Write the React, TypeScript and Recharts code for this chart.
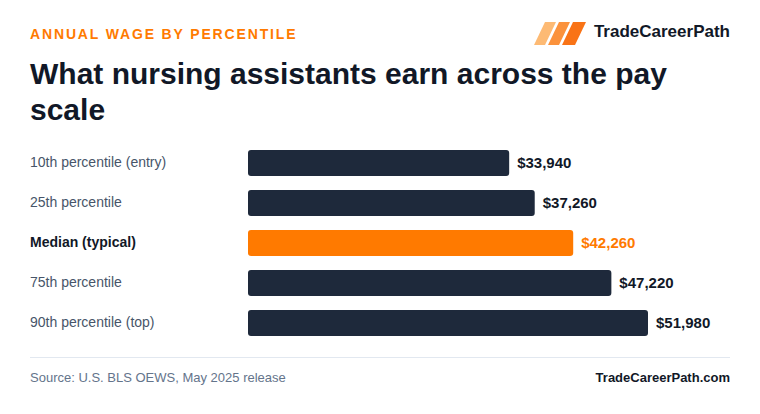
import React from "react";
import { BarChart, Bar, XAxis, YAxis, Cell, LabelList } from "recharts";

const percentiles = [
  "10th percentile (entry)",
  "25th percentile",
  "Median (typical)",
  "75th percentile",
  "90th percentile (top)",
];
const wages = [33940, 37260, 42260, 47220, 51980];
const highlighted = "Median (typical)";

const data = percentiles.map((label, i) => ({ label, wage: wages[i] }));

const FONT = '"Liberation Sans", Arial, Helvetica, sans-serif';
const ORANGE = "#ff7a00";
const NAVY = "#1e293b";
const INK = "#111827";

const fmt = (v: number) => "$" + v.toLocaleString("en-US");

function PercentileTick({ y, payload }: any) {
  const isMedian = payload.value === highlighted;
  return (
    <text
      x={30}
      y={y}
      dy={4}
      textAnchor="start"
      fontFamily={FONT}
      fontSize={14}
      fontWeight={isMedian ? 700 : 400}
      fill={isMedian ? INK : "#475569"}
    >
      {payload.value}
    </text>
  );
}

function WageLabel({ x, y, width, height, value, index }: any) {
  const isMedian = percentiles[index] === highlighted;
  return (
    <text
      x={x + width + 8}
      y={y + height / 2}
      dy={5}
      fontFamily={FONT}
      fontSize={15}
      fontWeight={700}
      fill={isMedian ? ORANGE : INK}
    >
      {fmt(value)}
    </text>
  );
}

function Logo() {
  return (
    <svg width={52} height={23} style={{ position: "absolute", left: 534, top: 22 }}>
      <polygon points="0,23 11,0 22,0 11,23" fill="#fdba74" />
      <polygon points="14,23 25,0 36,0 25,23" fill="#fb923c" />
      <polygon points="28,23 39,0 52,0 41,23" fill="#f97316" />
    </svg>
  );
}

export default function App() {
  return (
    <div
      style={{
        position: "relative",
        width: 760,
        height: 414,
        margin: -8,
        background: "#ffffff",
        fontFamily: FONT,
        overflow: "hidden",
      }}
    >
      <div
        style={{
          position: "absolute",
          left: 30,
          top: 26,
          fontSize: 14,
          fontWeight: 700,
          letterSpacing: 1.85,
          color: ORANGE,
        }}
      >
        ANNUAL WAGE BY PERCENTILE
      </div>
      <Logo />
      <div
        style={{
          position: "absolute",
          right: 30,
          top: 22,
          fontSize: 17,
          fontWeight: 700,
          color: INK,
        }}
      >
        TradeCareerPath
      </div>
      <div
        style={{
          position: "absolute",
          left: 30,
          top: 56,
          width: 680,
          fontSize: 30,
          lineHeight: "36px",
          fontWeight: 700,
          color: INK,
        }}
      >
        What nursing assistants earn across the pay scale
      </div>

      <div style={{ position: "absolute", left: 0, top: 143 }}>
        <BarChart
          width={760}
          height={200}
          data={data}
          layout="vertical"
          margin={{ top: 0, right: 32, bottom: 0, left: 30 }}
        >
          <XAxis type="number" hide domain={[0, 62376]} />
          <YAxis
            type="category"
            dataKey="label"
            width={218}
            axisLine={false}
            tickLine={false}
            tick={<PercentileTick />}
          />
          <Bar dataKey="wage" barSize={26} radius={3} isAnimationActive={false}>
            {data.map((d) => (
              <Cell key={d.label} fill={d.label === highlighted ? ORANGE : NAVY} />
            ))}
            <LabelList dataKey="wage" content={<WageLabel />} />
          </Bar>
        </BarChart>
      </div>

      <div
        style={{
          position: "absolute",
          left: 30,
          top: 357,
          width: 700,
          height: 1,
          background: "#e2e8f0",
        }}
      />
      <div
        style={{
          position: "absolute",
          left: 30,
          top: 370,
          fontSize: 13,
          color: "#64748b",
        }}
      >
        Source: U.S. BLS OEWS, May 2025 release
      </div>
      <div
        style={{
          position: "absolute",
          right: 30,
          top: 370,
          fontSize: 13,
          fontWeight: 700,
          color: INK,
        }}
      >
        TradeCareerPath.com
      </div>
    </div>
  );
}
